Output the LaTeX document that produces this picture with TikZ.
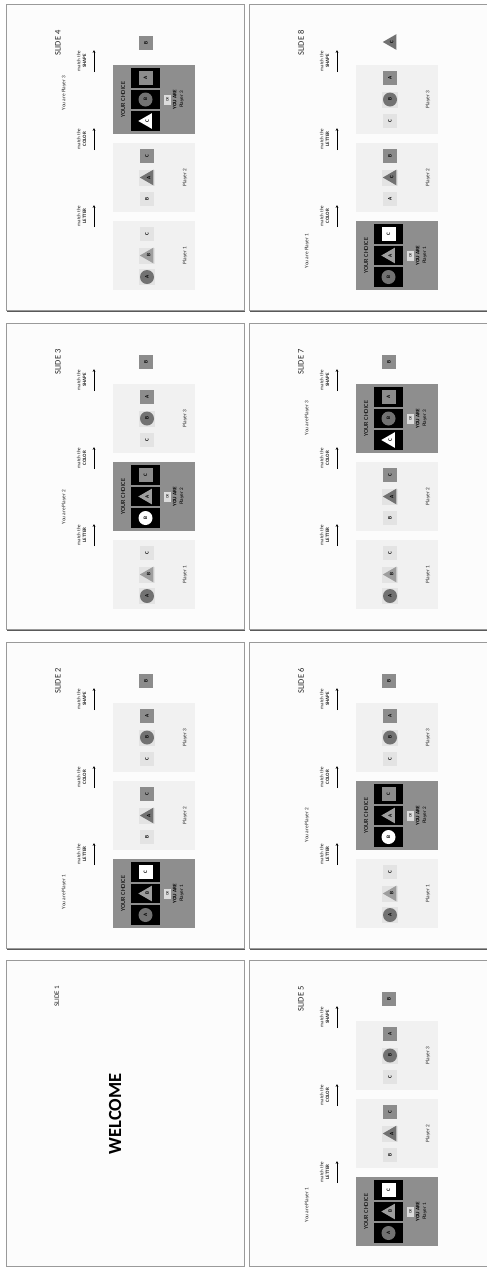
\documentclass[tikz,border=0pt]{standalone}
\usepackage{fontspec}
\setmainfont{Carlito}
\usetikzlibrary{shapes.geometric,arrows.meta}
\definecolor{slidebg}{HTML}{FCFCFC}
\definecolor{framecol}{HTML}{9A9A9A}
\definecolor{shadowcol}{HTML}{5A5A5A}
\definecolor{pboxbg}{HTML}{F1F1F1}
\definecolor{cboxbg}{HTML}{8E8E8E}
\definecolor{dkc}{HTML}{727272}
\definecolor{mdc}{HTML}{9E9E9E}
\definecolor{ltc}{HTML}{E3E3E3}
\definecolor{sqmd}{HTML}{8C8C8C}
\definecolor{okbg}{HTML}{DCDCDC}
\definecolor{txt}{HTML}{262626}
\tikzset{
  slideat/.style 2 args={shift={(#1,-#2)},rotate=90,transform shape},
  frame/.style={draw=framecol,line width=0.7pt,fill=slidebg,minimum width=306pt,minimum height=238pt,inner sep=0pt,anchor=north west},
  shadowbox/.style={fill=shadowcol,minimum width=306pt,minimum height=238pt,inner sep=0pt,anchor=north west},
  ttl/.style={font=\fontsize{8.5}{9}\selectfont,text=txt},
  pbox/.style={fill=pboxbg,minimum width=69pt,minimum height=82pt,inner sep=0pt,anchor=north west},
  cbox/.style={fill=cboxbg,minimum width=69pt,minimum height=82pt,inner sep=0pt,anchor=north west},
  lettr/.style={font=\fontsize{5.2}{5.2}\selectfont\bfseries,text=black},
  circ/.style={circle,minimum size=14pt,inner sep=0pt,lettr},
  sqr/.style={rectangle,minimum size=14pt,inner sep=0pt,lettr},
  tri/.style={regular polygon,regular polygon sides=3,minimum size=18pt,inner sep=0pt,lettr,yshift=-1.8pt},
  tile/.style={fill=ltc,minimum size=16pt,inner sep=0pt},
  card/.style={fill=black,minimum width=19.5pt,minimum height=29pt,inner sep=0pt},
  lbl/.style={font=\fontsize{5.3}{5.8}\selectfont,text=txt},
  matchlbl/.style={font=\fontsize{5}{5.8}\selectfont,text=txt,align=center},
  ctitle/.style={font=\fontsize{6.3}{6.3}\selectfont,text=black},
  okbox/.style={fill=okbg,minimum width=10pt,minimum height=7pt,inner sep=0pt,font=\fontsize{3.8}{3.8}\selectfont},
  youare/.style={font=\fontsize{5.2}{6.8}\selectfont,text=black,align=center},
  arr/.style={draw=black,line width=0.7pt,-{Stealth[length=2.8pt,width=2.6pt]}},
  welcome/.style={font=\fontsize{18.5}{20}\selectfont\bfseries,text=black}
}
\newcommand{\SlideFrame}[2]{%
  \node[shadowbox] (#1-sh) at (-1.2,-1.2) {};
  \node[frame] (#1-fr) at (0,0) {};
  \node[ttl] (#1-ttl) at (268,-52) {#2};}
\newcommand{\PItem}[5]{\node[#2,fill=#4] (#1) at ({#3},-141) {#5};}
\newcommand{\KItem}[5]{\node[#2,fill=#4] (#1) at ({#3},-139.5) {#5};}
\newcommand{\Tile}[2]{\node[tile] (#1) at ({#2},-141) {};}
\newcommand{\PBox}[3]{%
  \node[pbox] (#1) at (#2,-107) {};
  \node[lbl] (#1-lbl) at ({#2+34.5},-179) {#3};}
\newcommand{\PlayerA}[2]{%
  \PBox{#1}{#2}{Player 1}
  \Tile{#1-t1}{#2+13}\PItem{#1-a}{circ}{#2+13}{dkc}{A}
  \Tile{#1-t2}{#2+34.5}\PItem{#1-b}{tri}{#2+34.5}{mdc}{B}
  \PItem{#1-c}{sqr}{#2+56}{ltc}{C}}
\newcommand{\PlayerB}[2]{%
  \PBox{#1}{#2}{Player 2}
  \PItem{#1-b}{sqr}{#2+13}{ltc}{B}
  \Tile{#1-t2}{#2+34.5}\PItem{#1-a}{tri}{#2+34.5}{dkc}{A}
  \PItem{#1-c}{sqr}{#2+56}{sqmd}{C}}
\newcommand{\PlayerBalt}[2]{%
  \PBox{#1}{#2}{Player 2}
  \PItem{#1-a}{sqr}{#2+13}{ltc}{A}
  \Tile{#1-t2}{#2+34.5}\PItem{#1-c}{tri}{#2+34.5}{dkc}{C}
  \PItem{#1-b}{sqr}{#2+56}{sqmd}{B}}
\newcommand{\PlayerC}[2]{%
  \PBox{#1}{#2}{Player 3}
  \PItem{#1-c}{sqr}{#2+13}{ltc}{C}
  \Tile{#1-t2}{#2+34.5}\PItem{#1-b}{circ}{#2+34.5}{dkc}{B}
  \PItem{#1-a}{sqr}{#2+56}{sqmd}{A}}
\newcommand{\ChoiceBox}[3]{%
  \node[cbox] (#1) at (#2,-107) {};
  \node[ctitle] (#1-t) at ({#2+34.5},-117) {YOUR CHOICE};
  \node[card] (#1-k1) at ({#2+13},-139.5) {};
  \node[card] (#1-k2) at ({#2+34.5},-139.5) {};
  \node[card] (#1-k3) at ({#2+56},-139.5) {};
  \node[okbox] (#1-ok) at ({#2+34.5},-161.5) {OK};
  \node[youare] (#1-y) at ({#2+34.5},-172.5) {\textbf{YOU ARE}\\Player #3};}
\newcommand{\MatchArrow}[3]{%
  \node[matchlbl] (#1) at (#2,-75.5) {match the\\\textbf{#3}};
  \coordinate (#1-s) at ({#2-11},-88);
  \coordinate (#1-e) at ({#2+11},-88);
  \draw[arr] (#1-s) -- (#1-e);}
\newcommand{\YouAre}[3]{\node[lbl] (#1) at (#2,-58) {You are Player #3};}
\newcommand{\StdArrows}[1]{%
  \MatchArrow{#1-m1}{95}{LETTER}
  \MatchArrow{#1-m2}{172}{COLOR}
  \MatchArrow{#1-m3}{250}{SHAPE}}
\newcommand{\AnsB}[1]{\node[sqr,fill=sqmd] (#1) at (268,-140) {B};}
\newcommand{\SlideTypeOne}[3]{%
  \SlideFrame{#1}{#2}
  \YouAre{#1-you}{#3}{1}
  \ChoiceBox{#1-ch}{21}{1}
  \KItem{#1-ch-a}{circ}{21+13}{dkc}{A}
  \KItem{#1-ch-b}{tri}{21+34.5}{mdc}{B}
  \KItem{#1-ch-c}{sqr}{21+56}{white}{C}
  \PlayerB{#1-p2}{99}
  \PlayerC{#1-p3}{177}
  \StdArrows{#1}
  \AnsB{#1-ans}}
\newcommand{\SlideTypeTwo}[3]{%
  \SlideFrame{#1}{#2}
  \YouAre{#1-you}{#3}{2}
  \PlayerA{#1-p1}{21}
  \ChoiceBox{#1-ch}{99}{2}
  \KItem{#1-ch-b}{circ}{99+13}{white}{B}
  \KItem{#1-ch-a}{tri}{99+34.5}{mdc}{A}
  \KItem{#1-ch-c}{sqr}{99+56}{sqmd}{C}
  \PlayerC{#1-p3}{177}
  \StdArrows{#1}
  \AnsB{#1-ans}}
\newcommand{\SlideTypeThree}[3]{%
  \SlideFrame{#1}{#2}
  \YouAre{#1-you}{#3}{3}
  \PlayerA{#1-p1}{21}
  \PlayerB{#1-p2}{99}
  \ChoiceBox{#1-ch}{177}{3}
  \KItem{#1-ch-c}{tri}{177+13}{white}{C}
  \KItem{#1-ch-b}{circ}{177+34.5}{dkc}{B}
  \KItem{#1-ch-a}{sqr}{177+56}{sqmd}{A}
  \StdArrows{#1}
  \AnsB{#1-ans}}
\begin{document}
\begin{tikzpicture}[x=1pt,y=1pt]
\fill[white] (0,0) rectangle (487,-1267);
\useasboundingbox (0,0) rectangle (487,-1267);
\begin{scope}
\clip (0,0) rectangle (487,-1267);
\begin{scope}[slideat={6}{1267}]
  \SlideFrame{s1}{}
  \node[ttl,font=\fontsize{7}{8}\selectfont] (s1-title) at (271,-51) {SLIDE 1};
  \node[welcome] (s1-w) at (153,-109) {WELCOME};
\end{scope}
\begin{scope}[slideat={6}{949}]
  \SlideTypeOne{s2}{SLIDE 2}{57}
\end{scope}
\begin{scope}[slideat={6}{630}]
  \SlideTypeTwo{s3}{SLIDE 3}{123}
\end{scope}
\begin{scope}[slideat={6}{311}]
  \SlideTypeThree{s4}{SLIDE 4}{218}
\end{scope}
\begin{scope}[slideat={249}{1267}]
  \SlideTypeOne{s5}{SLIDE 5}{62}
\end{scope}
\begin{scope}[slideat={249}{949}]
  \SlideTypeTwo{s6}{SLIDE 6}{124}
\end{scope}
\begin{scope}[slideat={249}{630}]
  \SlideTypeThree{s7}{SLIDE 7}{212}
\end{scope}
\begin{scope}[slideat={249}{311}]
  \SlideFrame{s8}{SLIDE 8}
  \YouAre{s8-you}{60}{1}
  \ChoiceBox{s8-ch}{21}{1}
  \KItem{s8-ch-b}{circ}{21+13}{dkc}{B}
  \KItem{s8-ch-a}{tri}{21+34.5}{mdc}{A}
  \KItem{s8-ch-c}{sqr}{21+56}{white}{C}
  \PlayerBalt{s8-p2}{99}
  \PlayerC{s8-p3}{177}
  \MatchArrow{s8-m1}{95}{COLOR}
  \MatchArrow{s8-m2}{172}{LETTER}
  \MatchArrow{s8-m3}{250}{SHAPE}
  \node[tri,fill=dkc] (s8-ans) at (269,-141) {C};
\end{scope}
\end{scope}
\end{tikzpicture}
\end{document}
